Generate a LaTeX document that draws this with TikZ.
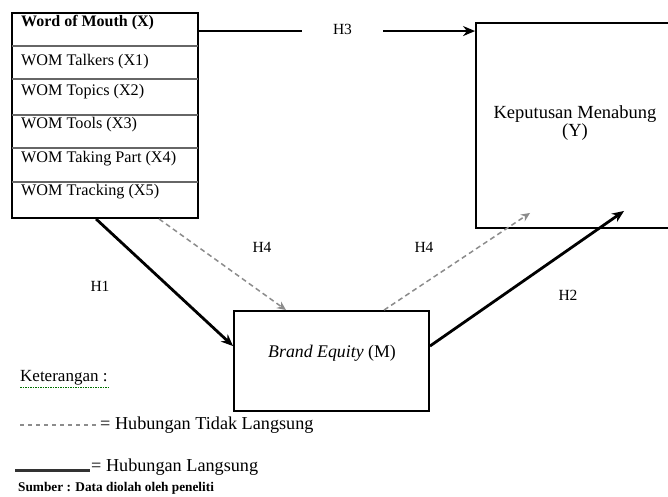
\documentclass[tikz,border=0pt]{standalone}
\usepackage{fontspec}
\setmainfont{Liberation Serif}
\usetikzlibrary{arrows.meta,calc}
\begin{document}
\begin{tikzpicture}[x=1pt,y=-1pt,
  box/.style={draw, line width=1.9pt, inner sep=0pt, rectangle},
  row/.style={anchor=west, inner sep=0pt, font=\fontsize{16.2}{18}\selectfont},
  sepline/.style={draw=black!60, line width=1.3pt},
  hlab/.style={inner sep=0pt, font=\fontsize{15.5}{17}\selectfont},
  direct/.style={line width=2.8pt, -{Stealth[length=12pt,width=10pt]}},
  indirect/.style={draw=black!45, line width=1.5pt, dash pattern=on 5pt off 3.5pt, -{Stealth[length=9pt,width=8pt,open]}},
  legtext/.style={anchor=west, inner sep=0pt, font=\fontsize{18.2}{20}\selectfont}]
\useasboundingbox (0,0) rectangle (668,496);
\clip (0,0) rectangle (668,496);
\fill[white] (0,0) rectangle (668,496);

% Word of Mouth box
\node[box, minimum width=186pt, minimum height=205pt] (X) at (105,115.5) {};
\foreach \yy in {34,67,103,136,170}{
  \draw[sepline] ($(X.north west)+(1,\yy)$) -- ($(X.north east)+(-1,\yy)$);
}
\node[row, font=\fontsize{16}{18}\selectfont\bfseries] (x0) at (21,23) {Word of Mouth (X)};
\node[row] (x1) at (21,62) {WOM Talkers (X1)};
\node[row] (x2) at (21,92) {WOM Topics (X2)};
\node[row] (x3) at (21,125) {WOM Tools (X3)};
\node[row] (x4) at (21,159) {WOM Taking Part (X4)};
\node[row] (x5) at (21,192) {WOM Tracking (X5)};

% Keputusan Menabung box
\node[box, minimum width=198pt, minimum height=205pt] (Y) at (575,125.5) {};
\node[inner sep=0pt, align=center, font=\fontsize{18.5}{17.5}\selectfont] (yt) at (575,123) {Keputusan Menabung\\(Y)};

% Brand Equity box
\node[box, minimum width=195pt, minimum height=100pt] (M) at (331.5,361) {};
\node[inner sep=0pt, font=\fontsize{17.8}{19}\selectfont] (mt) at (332,353) {\textit{Brand Equity} (M)};

% connectors
\draw[direct] ($(X.north east)+(0,19)$) -- node[pos=0.52, fill=white, minimum width=81pt, minimum height=12pt, inner sep=0pt] (h3) {\raisebox{4pt}{\fontsize{15.5}{17}\selectfont H3}} ($(Y.north west)+(0,9)$);
\draw[direct] ($(X.south west)+(85,0)$) -- ($(M.north west)+(0,36)$);
\draw[direct] ($(M.north east)+(0,36)$) -- ($(Y.south west)+(149,-18)$);
\draw[indirect] ($(X.south west)+(148,0)$) -- ($(M.north west)+(53,0)$);
\draw[indirect] ($(M.north west)+(151,0)$) -- ($(Y.south west)+(55,-16)$);

\node[hlab] (h1) at (100,286) {H1};
\node[hlab] (h2) at (568,295) {H2};
\node[hlab] (h4a) at (262,247) {H4};
\node[hlab] (h4b) at (424,247) {H4};

% legend
\node[anchor=west, inner sep=0pt, font=\fontsize{17}{19}\selectfont] (ket) at (20,378) {Keterangan :};
\draw[green!45!black, line width=0.8pt, dash pattern=on 1.5pt off 1pt] ($(ket.south west)+(0,2)$) -- ($(ket.south east)+(0,2)$);
\coordinate (la) at (20,425);
\coordinate (lb) at (97,425);
\draw[draw=black!45, line width=1.5pt, dash pattern=on 4pt off 4pt] (la) -- (lb);
\node[legtext] (t1) at (100,425) {= Hubungan Tidak Langsung};
\coordinate (lc) at (15,470);
\coordinate (ld) at (90,470);
\draw[line width=3pt, black!80] (lc) -- (ld);
\node[legtext] (t2) at (91,467) {= Hubungan Langsung};
\node[anchor=west, inner sep=0pt, font=\fontsize{13.3}{15}\selectfont\bfseries] (src) at (18,488) {Sumber : Data diolah oleh peneliti};
\end{tikzpicture}
\end{document}
